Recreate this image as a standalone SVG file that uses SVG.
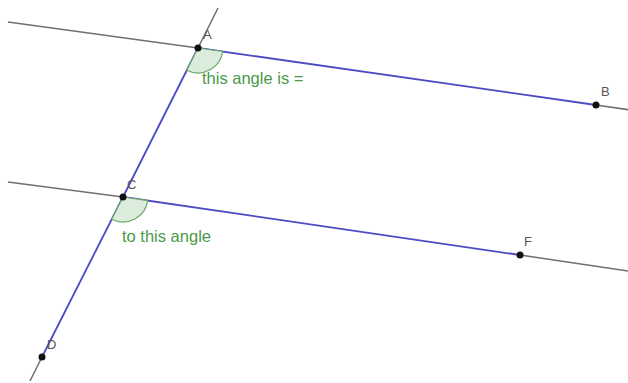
<svg xmlns="http://www.w3.org/2000/svg" width="628" height="383" viewBox="0 0 628 383">
<style>
.g{stroke:#707070;stroke-width:1.6;fill:none}
.b{stroke:#4b4bc4;stroke-width:1.8;fill:none}
.arc{fill:#dcecdc;stroke:#6aa86a;stroke-width:1.2}
.pt{fill:#111}
.lbl{font-family:"Liberation Sans",Arial,sans-serif;font-size:13px;fill:#555}
.note{font-family:"Liberation Sans",Arial,sans-serif;font-size:16.5px;fill:#4a9a4a}
</style>
<rect width="628" height="383" fill="#fff"/>
<g id="connectors">
<line class="g" x1="8" y1="22" x2="198" y2="48"/>
<line class="g" x1="596" y1="105" x2="628" y2="109.6"/>
<line class="g" x1="218" y1="8" x2="198" y2="48"/>
<line class="g" x1="42" y1="357" x2="30" y2="381"/>
<line class="g" x1="8" y1="182" x2="123" y2="197"/>
<line class="g" x1="520" y1="255" x2="628" y2="271"/>
<line class="b" x1="198" y1="48" x2="596" y2="105"/>
<line class="b" x1="198" y1="48" x2="123" y2="197"/>
<line class="b" x1="123" y1="197" x2="520" y2="255"/>
<line class="b" x1="123" y1="197" x2="42" y2="357"/>
</g>
<g id="angleA">
<path class="arc" d="M198 48 L222.7 51.5 A25 25 0 0 1 186.8 70.3 Z"/>
<text class="note" x="202" y="84">this angle is =</text>
</g>
<g id="angleC">
<path class="arc" d="M123 197 L147.7 200.6 A25 25 0 0 1 111.7 219.3 Z"/>
<text class="note" x="122" y="242">to this angle</text>
</g>
<g id="A"><circle class="pt" cx="198" cy="48" r="3.5"/><text class="lbl" x="203" y="39">A</text></g>
<g id="B"><circle class="pt" cx="596" cy="105" r="3.5"/><text class="lbl" x="601" y="96">B</text></g>
<g id="C"><circle class="pt" cx="123" cy="197" r="3.5"/><text class="lbl" x="127" y="189">C</text></g>
<g id="F"><circle class="pt" cx="520" cy="255" r="3.5"/><text class="lbl" x="524" y="246">F</text></g>
<g id="D"><circle class="pt" cx="42" cy="357" r="3.5"/><text class="lbl" x="47" y="349">D</text></g>
</svg>
